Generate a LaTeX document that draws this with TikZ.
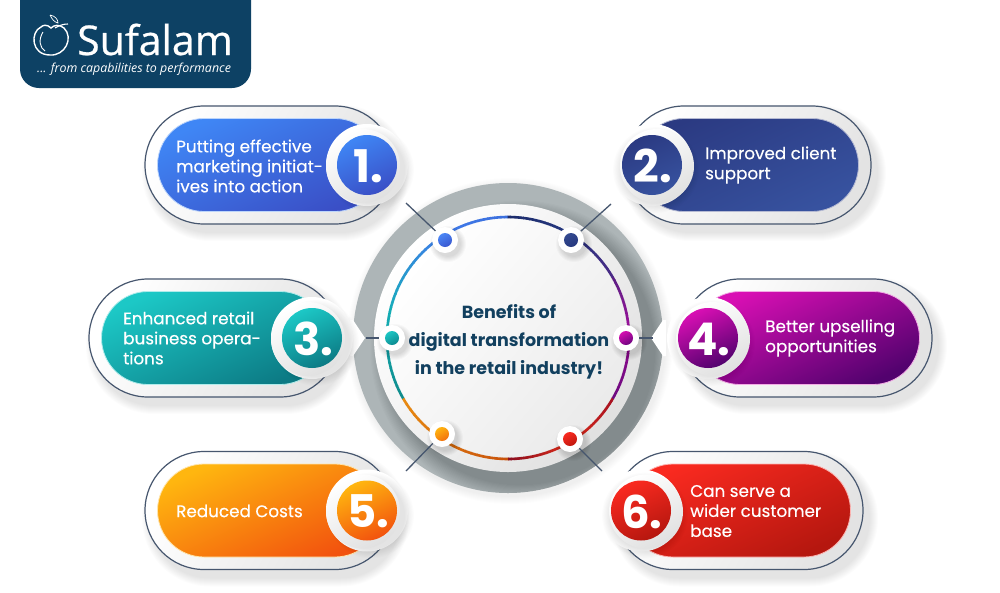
\documentclass[tikz,border=0pt]{standalone}
\usepackage{fontspec}
\setmainfont{Poppins}
\newfontfamily\popm[FakeBold=0.35]{Poppins}
\newfontfamily\opens{Open Sans}
\newfontfamily\openb[FakeBold=0.6]{Open Sans}
\definecolor{logoblue}{HTML}{0D4164}
\definecolor{titleblue}{HTML}{12405F}
\definecolor{frameline}{HTML}{46566E}
\definecolor{ringgrey}{HTML}{ADB5B7}
\newcommand\hx[1]{\definecolor{#1}{HTML}{#1}}
\hx{3C6FDD}\hx{3F7BEA}\hx{1AA9BE}\hx{14AEB6}\hx{0F8C8C}\hx{E88A12}\hx{C9540C}\hx{8D0F20}\hx{D92A18}\hx{A81222}
\hx{6E0A80}\hx{8E0A8C}\hx{A50E9E}\hx{5C1F84}\hx{4A2A86}\hx{26387F}\hx{1C2C6C}
\hx{4A86F5}\hx{3A58D0}\hx{33498F}\hx{1CC6C4}\hx{0D8A90}\hx{D40FB0}\hx{6E0480}\hx{FFB40F}\hx{F2700E}\hx{F92A20}\hx{C0180F}
\hx{3F86F5}\hx{3A4FC6}\hx{2B3A82}\hx{37529F}\hx{1CC8C6}\hx{0C7A84}\hx{D90FB4}\hx{52026E}\hx{FFB60F}\hx{F2520E}\hx{FA2A20}\hx{B5170F}
\tikzset{
  x=1pt,y=-1pt,
  pilltext/.style={anchor=west,align=left,text=white,inner sep=0pt,font=\popm\fontsize{16.8}{20}\selectfont},
  numtext/.style={text=white,inner sep=0pt,font=\bfseries\fontsize{45}{45}\selectfont},
  halo/.style={circle,inner sep=0pt,minimum size=74pt,left color=white,right color=black!12,shading angle=30},
  haloblob/.style={circle,inner sep=0pt,minimum size=82pt,fill=white},
  badge/.style={circle,inner sep=0pt,minimum size=60pt},
  framebox/.style={rectangle,inner sep=0pt,minimum height=118pt,rounded corners=59pt,draw=frameline,line width=1.2pt,left color=white,right color=black!11,shading angle=60},
  innerbox/.style={rectangle,inner sep=0pt,minimum height=93pt,rounded corners=46.5pt,line width=.8pt},
  linker/.style={draw=frameline,line width=1.3pt},
  dothalo/.style={circle,inner sep=0pt,minimum size=26pt,fill=white},
  dotcore/.style={circle,inner sep=0pt,minimum size=14pt},
}
% #1 id, #2 x0, #3 x1, #4 cy, #5 circle x, #6 #7 colours, #8 number, #9 halo offset
\newcommand\pillshape[9]{%
  \foreach \k in {1,...,9}{\fill[black,opacity=.012,rounded corners={(59+\k)*1pt}] ({#2+6-\k},{#4-59+8-\k}) rectangle ({#3+6+\k},{#4+59+8+\k});}
  \node[framebox,minimum width={(#3-#2)*1pt}] (#1frame) at ({(#2+#3)/2},#4) {};
  \node[innerbox,minimum width={(#3-#2-25)*1pt},draw=#6!35!white,left color=#6,right color=#7,shading angle=25] (#1inner) at ({(#2+#3)/2},#4) {};
  \node[haloblob] (#1blob) at (#5,#4) {};
  \foreach \k in {1,...,9}{\fill[black,opacity=.012] ({#5+4},{#4+5}) circle[radius={(33+\k*1.1)*1pt}];}
  \node[halo] (#1halo) at ({#5+#9},{#4+1}) {};
  \node[badge,left color=#6,right color=#7,shading angle=25] (#1badge) at (#5,#4) {};
  \node[numtext] (#1num) at ({#5+1},{#4+1}) {#8};
}
% arc with colour blended from #3 to #4 between angles #1 and #2
\newcommand\ringarc[4]{%
  \foreach \s in {0,...,19}{
    \pgfmathsetmacro\aa{#1+(#2-#1)*\s/20}
    \pgfmathsetmacro\bb{#1+(#2-#1)*(\s+1.15)/20}
    \pgfmathsetmacro\pp{100-\s*100/19}
    \draw[line width=2.6pt,draw=#3!\pp!#4] ({508+121*cos(\aa)},{338-121*sin(\aa)}) -- ({508+121*cos((\aa+\bb)/2)},{338-121*sin((\aa+\bb)/2)}) -- ({508+121*cos(\bb)},{338-121*sin(\bb)});
  }
}
\begin{document}
\begin{tikzpicture}
\useasboundingbox (0,0) rectangle (1000,592);
\fill[white] (0,0) rectangle (1000,592);
% logo
\begin{scope}
\clip (0,0) rectangle (1000,592);
\fill[logoblue,rounded corners=19pt] (20,-30) -- (20,88) -- (251,88) -- (251,-30) -- cycle;
\end{scope}
\draw[white,line width=1.4pt] (41,27) .. controls (30,32) and (31,55) .. (50,55) .. controls (65,56) and (74,38) .. (64,28) .. controls (59,24) and (54,25) .. (51,28) .. controls (47,24) and (43,25) .. (41,27);
\draw[white,line width=.9pt] (43,32) .. controls (38,40) and (40,48) .. (45,51);
\draw[white,line width=.7pt] (50,15) .. controls (52,19) and (54,22) .. (58,23) .. controls (58,19) and (55,16) .. (50,15);
\draw[white,line width=1.1pt] (55,28) .. controls (60,25) and (64,24) .. (68,24);
\node[anchor=base west,inner sep=0pt,text=white,font=\openb\fontsize{41}{41}\selectfont] (logoname) at (77,55) {Sufalam};
\node[anchor=base west,inner sep=0pt,text=white,font=\opens\itshape\fontsize{12.4}{14}\selectfont] (logotag) at (37,72) {... from capabilities to performance};
% central ring
\foreach \k in {1,...,8}{\fill[black,opacity=.008] (510,341) circle[radius={(155+\k)*1pt}];}
\fill[ringgrey] (508,338) circle[radius=155pt];
\begin{scope}
\clip (508,338) circle[radius=155pt];
\foreach \k in {1,...,14}{\fill[black,opacity=.016] (520,350) circle[radius={(134+\k*1.1)*1pt}];}
\end{scope}
\fill[white] (350,320) -- (353,320) -- (365,338) -- (353,356) -- (350,356) -- cycle;
\fill[white] (666,320) -- (663,320) -- (651,338) -- (663,356) -- (666,356) -- cycle;
\node[circle,inner sep=0pt,minimum size=268pt,left color=white,right color=black!12,shading angle=50] (rim) at (508,338) {};
\node[circle,inner sep=0pt,minimum size=238pt,left color=white,right color=black!8,shading angle=50] (face) at (508,338) {};
\ringarc{90}{122}{3C6FDD}{3F7BEA}
\ringarc{122}{165}{3F7BEA}{1AA9BE}
\ringarc{165}{210}{14AEB6}{0F8C8C}
\ringarc{210}{270}{E88A12}{C9540C}
\ringarc{270}{300}{8D0F20}{D92A18}
\ringarc{300}{330}{D92A18}{A81222}
\ringarc{330}{360}{6E0A80}{8E0A8C}
\ringarc{0}{30}{A50E9E}{5C1F84}
\ringarc{30}{60}{4A2A86}{26387F}
\ringarc{60}{90}{26387F}{1C2C6C}
% dots
\foreach \n/\x/\y/\ca/\cb in {d1/445/240/4A86F5/3A58D0,d2/571/240/33498F/26387F,d3/392/338/1CC6C4/0D8A90,d4/626/338/D40FB0/6E0480,d5/442/434/FFB40F/F2700E,d6/570/439/F92A20/C0180F}{
  \foreach \k in {1,...,6}{\fill[black,opacity=.025] ({\x+3},{\y+4}) circle[radius={(12+\k)*1pt}];}
  \node[dothalo] (\n) at (\x,\y) {};
  \node[dotcore,left color=\ca,right color=\cb,shading angle=30] (\n core) at (\x,\y) {};
}
% connectors
\coordinate (e1) at (406,203);
\coordinate (e2) at (611,204);
\coordinate (e3) at (366,338);
\coordinate (e4) at (653,338);
\coordinate (e5) at (406,471);
\coordinate (e6) at (602,471);
\draw[linker] (d1) -- (e1);
\draw[linker] (d2) -- (e2);
\draw[linker] (d3) -- (e3);
\draw[linker] (d4) -- (e4);
\draw[linker] (d5) -- (e5);
\draw[linker] (d6) -- (e6);
% pills
\pillshape{p1}{145}{394}{165}{367}{3F86F5}{3A4FC6}{1.}{-4}
\pillshape{p2}{625}{871}{165}{652}{2B3A82}{37529F}{2.}{5}
\pillshape{p3}{89}{339}{338}{312}{1CC8C6}{0C7A84}{3.}{-4}
\pillshape{p4}{681}{932}{338}{708}{D90FB4}{52026E}{4.}{5}
\pillshape{p5}{145}{394}{510.5}{367}{FFB60F}{F2520E}{5.}{-4}
\pillshape{p6}{614}{863}{510.5}{641}{FA2A20}{B5170F}{6.}{5}
% pill labels
\node[pilltext] (t1) at (176,166) {Putting effective\\marketing initiat-\\ives into action};
\node[pilltext] (t2) at (705,165) {Improved client\\support};
\node[pilltext] (t3) at (123,338) {Enhanced retail\\business opera-\\tions};
\node[pilltext] (t4) at (765,338) {Better upselling\\opportunities};
\node[pilltext] (t5) at (176,511) {Reduced Costs};
\node[pilltext] (t6) at (690,511) {Can serve a\\wider customer\\base};
% title
\node[align=center,text=titleblue,inner sep=0pt,font=\bfseries\fontsize{17.5}{28}\selectfont] (title) at (509,342) {Benefits of\\digital transformation\\in the retail industry!};
\end{tikzpicture}
\end{document}
